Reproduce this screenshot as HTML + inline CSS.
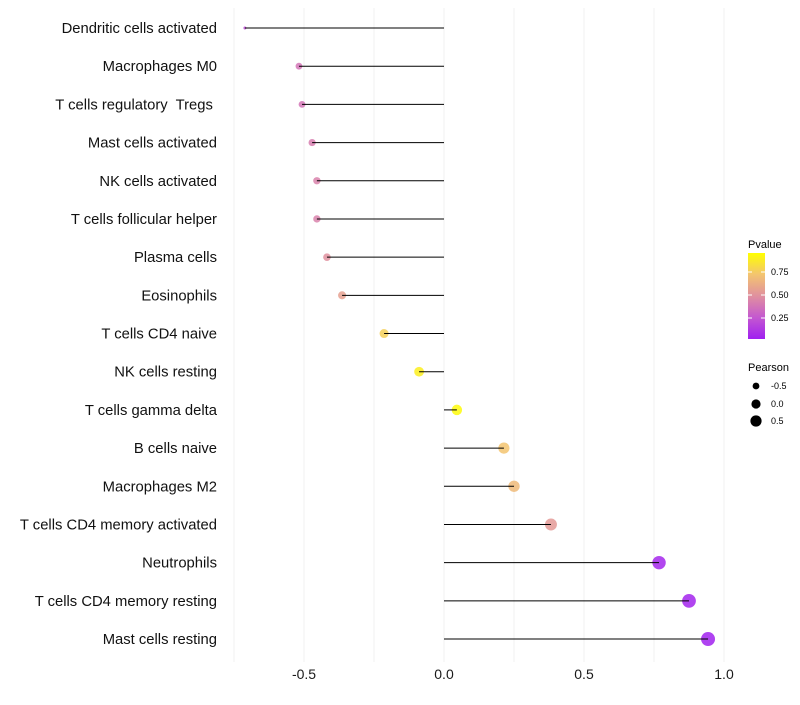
<!DOCTYPE html>
<html><head><meta charset="utf-8"><style>
body{margin:0;background:#fff;font-family:"Liberation Sans",sans-serif}
</style></head><body>
<svg id="c" width="800" height="700" xmlns="http://www.w3.org/2000/svg" font-family="Liberation Sans, sans-serif">
<defs><linearGradient id="pg" x1="0" y1="1" x2="0" y2="0">
<stop offset="0" stop-color="#A020F0"/><stop offset="0.25" stop-color="#C458D0"/><stop offset="0.5" stop-color="#E0909F"/><stop offset="0.75" stop-color="#F3C470"/><stop offset="1" stop-color="#FFFF00"/></linearGradient></defs>
<g id="grid"></g><g id="marks"></g><g id="labels"></g>
<g font-size="10">
<text x="748" y="248" font-size="11" fill="#000">Pvalue</text>
<rect x="748" y="253" width="17" height="86" fill="url(#pg)"/>
<line x1="748" y1="272" x2="752" y2="272" stroke="#fff"/><line x1="761" y1="272" x2="765" y2="272" stroke="#fff"/>
<line x1="748" y1="295" x2="752" y2="295" stroke="#fff"/><line x1="761" y1="295" x2="765" y2="295" stroke="#fff"/>
<line x1="748" y1="318" x2="752" y2="318" stroke="#fff"/><line x1="761" y1="318" x2="765" y2="318" stroke="#fff"/>
<text x="771" y="275" font-size="9">0.75</text><text x="771" y="298" font-size="9">0.50</text><text x="771" y="321" font-size="9">0.25</text>
<text x="748" y="371" font-size="11">Pearson</text>
<circle cx="756" cy="386" r="3.4"/><circle cx="756" cy="404" r="4.6"/><circle cx="756" cy="421" r="5.6"/>
<text x="771" y="389" font-size="9">-0.5</text><text x="771" y="407" font-size="9">0.0</text><text x="771" y="424" font-size="9">0.5</text>
</g>
</svg>
<script>
const cells=["Dendritic cells activated","Macrophages M0","T cells regulatory  Tregs ","Mast cells activated","NK cells activated","T cells follicular helper","Plasma cells","Eosinophils","T cells CD4 naive","NK cells resting","T cells gamma delta","B cells naive","Macrophages M2","T cells CD4 memory activated","Neutrophils","T cells CD4 memory resting","Mast cells resting"];
const pearson=[-0.711,-0.518,-0.507,-0.471,-0.454,-0.454,-0.418,-0.364,-0.214,-0.089,0.046,0.214,0.25,0.382,0.768,0.875,0.943];
const pvalue=[0.2,0.38,0.38,0.42,0.44,0.44,0.5,0.58,0.8,0.93,0.98,0.75,0.7,0.55,0.03,0.02,0.01];
const xTicks=[-0.5,0,0.5,1.0];
const xTickLabels=["-0.5","0.0","0.5","1.0"];
const gridVals=[-0.75,-0.5,-0.25,0,0.25,0.5,0.75,1.0];
const NS="http://www.w3.org/2000/svg";
const X=v=>444+v*280, Y=i=>28+i*38.19;
const pmin=Math.min(...pearson), pmax=Math.max(...pearson);
const R=v=>1.5+5.5*Math.sqrt((v-pmin)/(pmax-pmin));
function mk(t,a,p){const e=document.createElementNS(NS,t);for(const k in a)e.setAttribute(k,a[k]);p.appendChild(e);return e;}
const stops=[[0,[160,32,240]],[0.25,[196,88,208]],[0.5,[224,144,159]],[0.75,[243,196,112]],[1,[255,255,0]]];
function col(p){for(let i=1;i<stops.length;i++){if(p<=stops[i][0]){const a=stops[i-1],b=stops[i],t=(p-a[0])/(b[0]-a[0]);return 'rgb('+a[1].map((c,j)=>Math.round(c+(b[1][j]-c)*t)).join(',')+')';}}return 'rgb(255,255,0)';}
const g=document.getElementById('grid'),m=document.getElementById('marks'),l=document.getElementById('labels');
gridVals.forEach(v=>{const e=mk('line',{x1:X(v),x2:X(v),y1:8,y2:662,stroke:'#f0f0f0','stroke-width':1},g);

});
xTicks.forEach((v,i)=>{const t=mk('text',{x:X(v),y:679,'text-anchor':'middle','font-size':14,fill:'#1a1a1a'},l);t.textContent=xTickLabels[i];

});
cells.forEach((c,i)=>{const y=Y(i);
const t=mk('text',{x:217,y:y+5,'text-anchor':'end','font-size':14.8,fill:'#111',style:'white-space:pre'},l);t.textContent=c;


const d=mk('circle',{cx:X(pearson[i]),cy:y,r:R(pearson[i]),fill:col(pvalue[i]),'fill-opacity':0.85},m);


const s=mk('line',{x1:X(0),x2:X(pearson[i]),y1:y,y2:y,stroke:'#000','stroke-width':1},m);

});
</script>
</body></html>
